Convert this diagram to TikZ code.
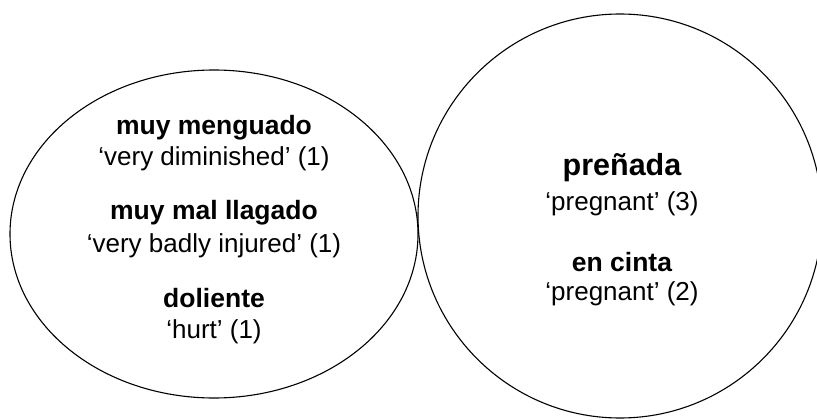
\documentclass[tikz,border=0pt]{standalone}
\usepackage{fontspec}
\setmainfont{Liberation Sans}
\usetikzlibrary{positioning}
\begin{document}
\begin{tikzpicture}[x=1pt, y=-1pt, ring/.style={line width=1.1pt},
    term/.style={font=\fontsize{26.5}{30}\selectfont\bfseries, inner sep=0pt},
    bigterm/.style={font=\fontsize{30.5}{36}\selectfont\bfseries, inner sep=0pt},
    gloss/.style={font=\fontsize{26}{30}\selectfont, inner sep=0pt}]

    % frame
    \useasboundingbox (0,0) rectangle (817,420);
    \clip (0,0) rectangle (817,420);

    % left ellipse
    \draw[ring] (214,234) ellipse [x radius=204, y radius=164];

    % right circle
    \draw[ring] (620,216) circle [radius=202];

    % left texts
    \node[term]  (menguado)  at (214,128) {muy menguado};
    \node[gloss] (menguadoG) at (214,159) {‘very diminished’ (1)};
    \node[term]  (llagado)   at (214,213) {muy mal llagado};
    \node[gloss] (llagadoG)  at (214,246) {‘very badly injured’ (1)};
    \node[term]  (doliente)  at (214,298) {doliente};
    \node[gloss] (dolienteG) at (214,332) {‘hurt’ (1)};

    % right texts
    \node[bigterm] (prenada)  at (622,168) {preñada};
    \node[gloss]   (prenadaG) at (622,204) {‘pregnant’ (3)};
    \node[term]    (cinta)    at (622,262) {en cinta};
    \node[gloss]   (cintaG)   at (622,294) {‘pregnant’ (2)};

\end{tikzpicture}
\end{document}
